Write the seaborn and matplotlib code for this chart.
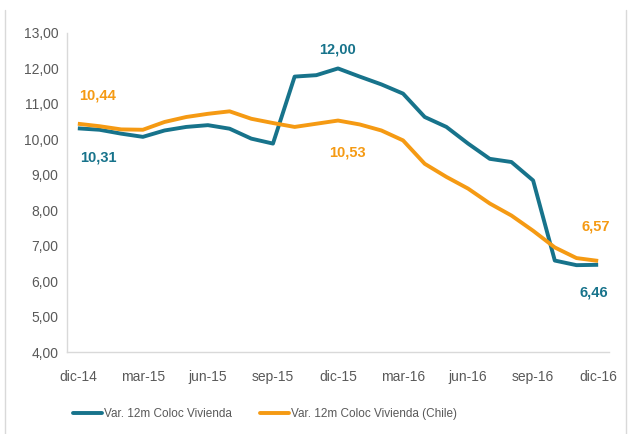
import matplotlib
matplotlib.use("Agg")
import matplotlib.pyplot as plt
import seaborn as sns
import pandas as pd
from matplotlib.lines import Line2D

months = ["dic-14", "ene-15", "feb-15", "mar-15", "abr-15", "may-15", "jun-15",
          "jul-15", "ago-15", "sep-15", "oct-15", "nov-15", "dic-15", "ene-16",
          "feb-16", "mar-16", "abr-16", "may-16", "jun-16", "jul-16", "ago-16",
          "sep-16", "oct-16", "nov-16", "dic-16"]
vivienda = [10.31, 10.27, 10.16, 10.07, 10.25, 10.35, 10.40, 10.30, 10.02, 9.88,
            11.77, 11.81, 12.00, 11.77, 11.55, 11.29, 10.63, 10.35, 9.88, 9.45,
            9.36, 8.84, 6.58, 6.45, 6.46]
vivienda_chile = [10.44, 10.37, 10.28, 10.27, 10.49, 10.63, 10.72, 10.79, 10.58, 10.46,
                  10.35, 10.44, 10.53, 10.42, 10.25, 9.97, 9.31, 8.94, 8.61, 8.19,
                  7.85, 7.42, 6.95, 6.65, 6.57]
series_names = ["Var. 12m Coloc Vivienda", "Var. 12m Coloc Vivienda (Chile)"]
yticks = [4, 5, 6, 7, 8, 9, 10, 11, 12, 13]

TEAL = "#17738B"
ORANGE = "#F59A13"
GRAY = "#595959"

sns.set_theme(style="white")
plt.rcParams["font.family"] = ["Liberation Sans", "DejaVu Sans"]

df = pd.DataFrame({
    "idx": list(range(len(months))) * 2,
    "value": vivienda + vivienda_chile,
    "serie": [series_names[0]] * len(months) + [series_names[1]] * len(months),
})

fig = plt.figure(figsize=(6.28, 4.34), dpi=100)
ax = fig.add_axes([67 / 628, 1 - 352 / 434, (609 - 67) / 628, (352 - 33) / 434])

sns.lineplot(data=df, x="idx", y="value", hue="serie",
             palette={series_names[0]: TEAL, series_names[1]: ORANGE},
             linewidth=2.8, ax=ax, legend=False, sort=False)
for ln in ax.lines:
    ln.set_solid_joinstyle("round")
    ln.set_solid_capstyle("butt")

n = len(months)
ax.set_xlim(-0.5, n - 0.5)
ax.set_ylim(4, 13)
ax.set_yticks(yticks)
ax.set_yticklabels([f"{v:.2f}".replace(".", ",") for v in yticks], color=GRAY, fontsize=10)
ax.set_xticks(range(0, n, 3))
ax.set_xticklabels([months[i] for i in range(0, n, 3)], color=GRAY, fontsize=10)
ax.set_xticks([i - 0.5 for i in range(0, n + 1, 3)], minor=True)
ax.tick_params(axis="x", which="major", length=0, pad=13)
ax.tick_params(axis="x", which="minor", length=4, color="#D9D9D9", width=1, direction="out")
ax.tick_params(axis="y", length=0, pad=6)
ax.set_xlabel("")
ax.set_ylabel("")
for s in ["top", "right"]:
    ax.spines[s].set_visible(False)
for s in ["left", "bottom"]:
    ax.spines[s].set_color("#D9D9D9")
    ax.spines[s].set_linewidth(1)

def lab(i, v, color, dx, dy):
    ax.annotate(f"{v:.2f}".replace(".", ","), xy=(i, v), xytext=(dx, dy),
                textcoords="offset pixels", ha="center", va="center",
                color=color, fontsize=10.5, fontweight="bold")

last = n - 1
lab(0, vivienda_chile[0], ORANGE, 20, 28)
lab(0, vivienda[0], TEAL, 21, -29)
lab(12, vivienda[12], TEAL, 0, 19)
lab(12, vivienda_chile[12], ORANGE, 9, -32)
lab(last, vivienda_chile[last], ORANGE, -2, 34)
lab(last, vivienda[last], TEAL, -4, -28)

handles = [Line2D([], [], color=TEAL, lw=2.8), Line2D([], [], color=ORANGE, lw=2.8)]
leg = fig.legend(handles, series_names, loc="center", bbox_to_anchor=(265 / 628, 1 - 414 / 434),
                 ncol=2, frameon=False, fontsize=8.5, handlelength=2.5,
                 handletextpad=0.2, columnspacing=2.3)
for t in leg.get_texts():
    t.set_color(GRAY)

# chart border lines
fig.add_artist(Line2D([5 / 628, 5 / 628], [0, 1 - 10 / 434], transform=fig.transFigure,
                      color="#D9D9D9", lw=1))
fig.add_artist(Line2D([626 / 628, 626 / 628], [0, 1 - 10 / 434], transform=fig.transFigure,
                      color="#D9D9D9", lw=1))

fig.savefig("out.png", dpi=100)
